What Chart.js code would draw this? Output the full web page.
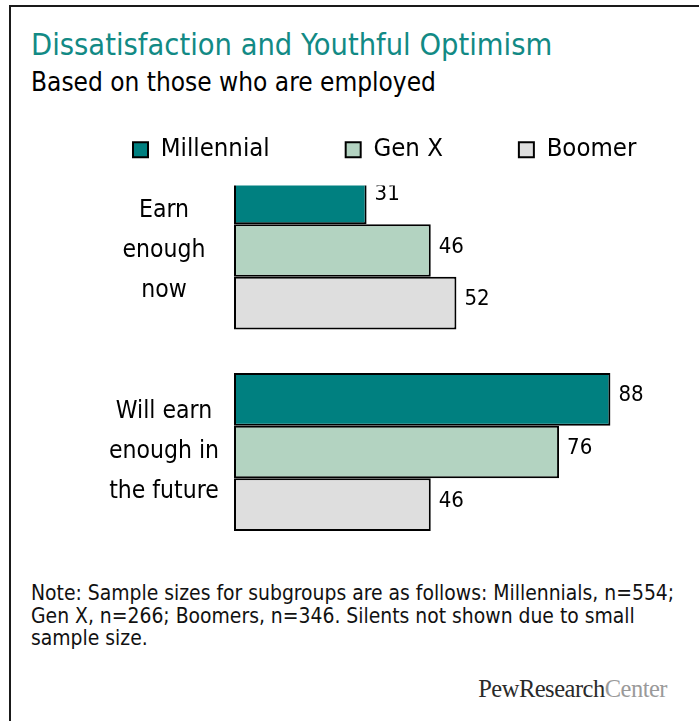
<!DOCTYPE html>
<html>
<head>
<meta charset="utf-8">
<script src="https://cdn.jsdelivr.net/npm/chart.js@4"></script>
<style>
    html, body { margin: 0; padding: 0; background: #fff; }
    body {
        width: 699px; height: 721px; position: relative; overflow: hidden;
        font-family: "DejaVu Sans Condensed", "DejaVu Sans", sans-serif;
    }
    #frame {
        position: absolute; left: 9px; top: 5px; right: -10px; bottom: -10px;
        border-left: 2px solid #1a1a1a; border-top: 2px solid #1a1a1a;
    }
    #title {
        position: absolute; left: 31px; top: 30px; font-size: 30.5px; line-height: 29px;
        color: #128a85; white-space: nowrap;
    }
    #subtitle {
        position: absolute; left: 31px; top: 69px; font-size: 26px; line-height: 26px;
        color: #000; white-space: nowrap;
    }
    #chart-box { position: absolute; left: 10px; top: 61px; width: 740px; height: 491px; }
    #note {
        position: absolute; left: 31px; top: 582px;
        font-size: 20.9px; line-height: 22.5px; color: #111; white-space: nowrap;
    }
    #logo {
        position: absolute; right: 32px; top: 677px; font-size: 24.5px; line-height: 24px;
        font-family: "Liberation Serif", "DejaVu Serif", serif; color: #2a2a2a; white-space: nowrap;
        letter-spacing: -0.5px;
    }
    #logo span { color: #9a9a9a; }
</style>
</head>
<body>
<div id="frame"></div>
<div id="title">Dissatisfaction and Youthful Optimism</div>
<div id="subtitle">Based on those who are employed</div>
<div id="chart-box"><canvas id="earn-chart"></canvas></div>
<div id="note">Note: Sample sizes for subgroups are as follows: Millennials, n=554;<br>Gen X, n=266; Boomers, n=346. Silents not shown due to small<br>sample size.</div>
<div id="logo">PewResearch<span>Center</span></div>

<script>
const categories = [["Earn", "enough", "now"], ["Will earn", "enough in", "the future"]];
const seriesNames = ["Millennial", "Gen X", "Boomer"];
const millennialValues = [31, 88];
const genXValues = [46, 76];
const boomerValues = [52, 46];

const seriesColors = ["#008080", "#b3d3c1", "#dedede"];
const FONT = '"DejaVu Sans Condensed", "DejaVu Sans", sans-serif';
// x max is wider than 100 so the legend row fits on one line at the reference scale
const X_MAX = 118.3;
// the first group runs above the plot top in the original and is cut off there
const CLIP_TOP = 65;

const valueLabels = {
    id: 'valueLabels',
    afterDatasetsDraw(chart) {
        const {ctx, chartArea} = chart;
        ctx.save();
        ctx.beginPath();
        ctx.rect(0, chartArea.top - CLIP_TOP, chart.width, chart.height);
        ctx.clip();
        ctx.font = `22px ${FONT}`;
        ctx.fillStyle = '#000';
        ctx.textBaseline = 'middle';
        ctx.textAlign = 'left';
        chart.data.datasets.forEach((dataset, i) => {
            chart.getDatasetMeta(i).data.forEach((bar, j) => {
                ctx.fillText(`${dataset.data[j]}`, bar.x + 8, bar.y - 3.5);
            });
        });
        ctx.restore();
    }
};

const makeDataset = (label, data, color) => ({
    label: label,
    data: data,
    backgroundColor: color,
    borderColor: '#000',
    borderWidth: 2,
    borderSkipped: false,
    categoryPercentage: 0.785,
    barPercentage: 1,
    clip: {left: 5, top: CLIP_TOP, right: 5, bottom: 100}
});

const chart = new Chart(document.querySelector('#earn-chart'), {
    type: 'bar',
    data: {
        labels: categories,
        datasets: [
            makeDataset(seriesNames[0], millennialValues, seriesColors[0]),
            makeDataset(seriesNames[1], genXValues, seriesColors[1]),
            makeDataset(seriesNames[2], boomerValues, seriesColors[2])
        ]
    },
    options: {
        indexAxis: 'y',
        responsive: true,
        maintainAspectRatio: false,
        animation: false,
        layout: {padding: {left: 47, right: 10, top: 0, bottom: 100}},
        scales: {
            x: {
                position: 'top',
                min: 0,
                max: X_MAX,
                grid: {display: false},
                border: {display: false},
                ticks: {display: false},
                afterFit: (scale) => { scale.height = 78; }
            },
            y: {
                offset: false,
                grid: {display: false, drawTicks: false},
                border: {display: false},
                ticks: {
                    color: '#000',
                    crossAlign: 'center',
                    padding: 15,
                    font: {family: FONT, size: 24.5, lineHeight: 1.63}
                },
                afterFit: (scale) => { scale.width = 177; }
            }
        },
        plugins: {
            legend: {
                position: 'top',
                align: 'start',
                labels: {
                    color: '#000',
                    boxWidth: 15,
                    boxHeight: 15,
                    padding: 76,
                    font: {family: FONT, size: 25.5}
                }
            },
            tooltip: {enabled: false}
        }
    },
    plugins: [valueLabels]
});
</script>
</body>
</html>
